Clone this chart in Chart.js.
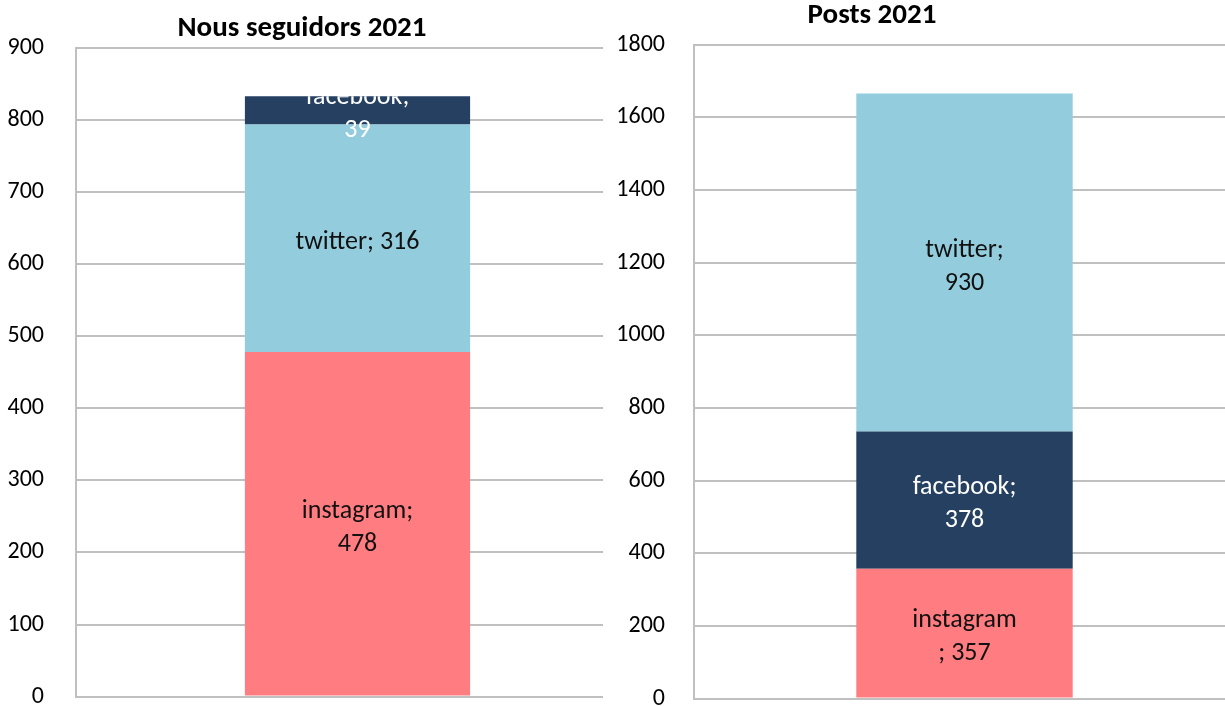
<!DOCTYPE html>
<html>
<head>
<meta charset="utf-8">
<script src="https://cdn.jsdelivr.net/npm/chart.js@4.4.0/dist/chart.umd.min.js"></script>
<style>
  html, body { margin: 0; padding: 0; background: #fff; }
  #wrap { position: relative; width: 1225px; height: 706px; overflow: hidden; background: #fff; }
  #leftBox { position: absolute; left: 0; top: 0; }
  #rightBox { position: absolute; left: 603px; top: 0; background: #fff; }
  canvas { display: block; }
</style>
</head>
<body>
<div id="wrap">
  <div id="leftBox"><canvas id="followersChart" width="660" height="743"></canvas></div>
  <div id="rightBox"><canvas id="postsChart" width="650" height="742"></canvas></div>
</div>
<script>
// data
var followersTitle = 'Nous seguidors 2021';
var followersPlatforms = ['instagram', 'twitter', 'facebook'];
var followersValues = [478, 316, 39];
var followersWrap = ['after', 'none', 'after'];   // where the label breaks around the ';'
var followersTicks = [0, 100, 200, 300, 400, 500, 600, 700, 800, 900];

var postsTitle = 'Posts 2021';
var postsPlatforms = ['instagram', 'facebook', 'twitter'];
var postsValues = [357, 378, 930];
var postsWrap = ['before', 'after', 'after'];
var postsTicks = [0, 200, 400, 600, 800, 1000, 1200, 1400, 1600, 1800];

var platformColors = { instagram: '#FF7C80', twitter: '#93CDDD', facebook: '#254061' };
var labelColors = { instagram: '#111111', twitter: '#111111', facebook: '#FFFFFF' };

var FONT = "Carlito, Lato, 'Open Sans', sans-serif";
var GRID = '#C0C0C0';

function labelLines(name, value, wrap) {
  if (wrap == 'after') return [name + ';', String(value)];
  if (wrap == 'before') return [name, '; ' + value];
  return [name + '; ' + value];
}

// draws "name; value" in the middle of every segment
var segmentLabels = {
  id: 'segmentLabels',
  afterDatasetsDraw: function(chart, args, opts) {
    var ctx = chart.ctx;
    var top = Infinity;
    chart.data.datasets.forEach(function(ds, i) {
      chart.getDatasetMeta(i).data.forEach(function(el) { top = Math.min(top, el.y); });
    });
    ctx.save();
    // excel cuts the top label off at the top of the stack
    ctx.beginPath();
    ctx.rect(0, top, chart.width, chart.height - top);
    ctx.clip();
    ctx.font = '26px ' + FONT;
    ctx.textAlign = 'center';
    ctx.textBaseline = 'middle';
    chart.data.datasets.forEach(function(ds, i) {
      var meta = chart.getDatasetMeta(i);
      meta.data.forEach(function(el, j) {
        var lines = labelLines(ds.label, ds.data[j], ds.wrap);
        var cy = (el.y + el.base) / 2 + 4;
        var lh = 33;
        ctx.fillStyle = labelColors[ds.label];
        lines.forEach(function(t, k) {
          ctx.fillText(t, el.x, cy + (k - (lines.length - 1) / 2) * lh);
        });
      });
    });
    ctx.restore();
  }
};

var panelTitle = {
  id: 'panelTitle',
  afterDraw: function(chart, args, opts) {
    var ctx = chart.ctx;
    ctx.save();
    ctx.font = 'bold 29px ' + FONT;
    ctx.fillStyle = '#000';
    ctx.textAlign = 'center';
    ctx.textBaseline = 'middle';
    ctx.fillText(opts.text, opts.x, opts.y);
    ctx.restore();
  }
};

function buildChart(canvasId, title, platforms, values, wrap, ticks, cfg) {
  var datasets = platforms.map(function(p, i) {
    return {
      label: p,
      data: [values[i]],
      wrap: wrap[i],
      backgroundColor: platformColors[p],
      borderWidth: 0,
      barPercentage: 0.4,
      categoryPercentage: 1
    };
  });

  return new Chart(document.getElementById(canvasId), {
    type: 'bar',
    data: { labels: [''], datasets: datasets },
    plugins: [segmentLabels, panelTitle],
    options: {
      responsive: false,
      animation: false,
      layout: { padding: { top: cfg.top, bottom: cfg.bottom, left: 0, right: cfg.right } },
      plugins: {
        legend: { display: false },
        tooltip: { enabled: false },
        title: { display: false },
        panelTitle: { text: title, x: cfg.titleX, y: cfg.titleY }
      },
      scales: {
        x: { stacked: true, display: false },
        y: {
          stacked: true,
          min: ticks[0],
          max: ticks[ticks.length - 1],
          afterFit: function(s) { s.width = cfg.axisWidth; },
          afterBuildTicks: function(s) { s.ticks = ticks.map(function(v) { return { value: v }; }); },
          ticks: {
            color: '#000',
            font: { family: FONT, size: 24 },
            padding: cfg.tickPad,
            callback: function(v) { return String(v); }
          },
          grid: { color: GRID, lineWidth: 2, drawTicks: false },
          border: { display: true, color: GRID, width: 2 }
        }
      }
    }
  });
}

buildChart('followersChart', followersTitle, followersPlatforms, followersValues, followersWrap, followersTicks,
  { top: 48, bottom: 26.5, right: 21, axisWidth: 76, tickPad: 32, titleX: 302, titleY: 29 });

buildChart('postsChart', postsTitle, postsPlatforms, postsValues, postsWrap, postsTicks,
  { top: 44.5, bottom: 22.5, right: 18, axisWidth: 91, tickPad: 29, titleX: 269, titleY: 16 });
</script>
</body>
</html>
